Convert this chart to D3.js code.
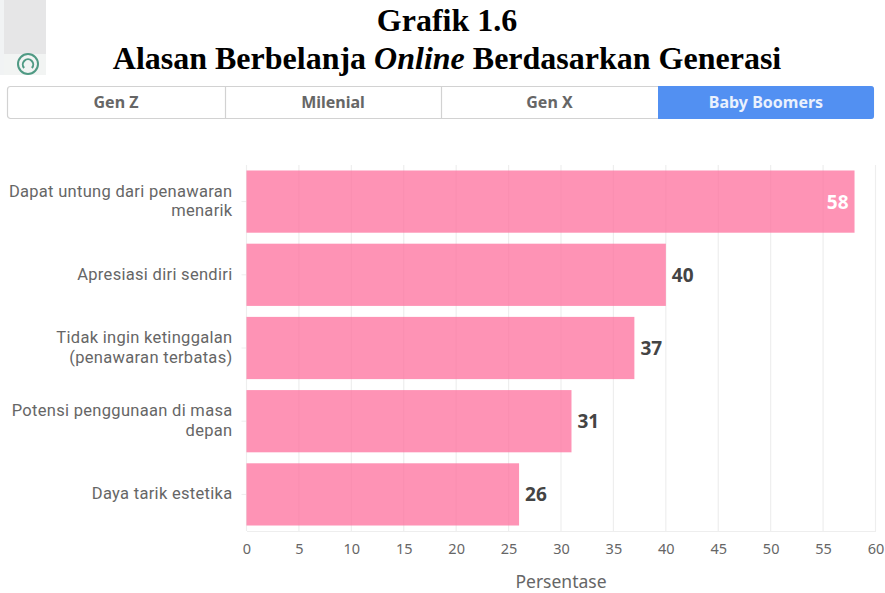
<!DOCTYPE html>
<html>
<head>
<meta charset="utf-8">
<script src="https://cdn.jsdelivr.net/npm/d3@7"></script>
<style>
  html, body { margin: 0; padding: 0; background: #fff; }
  text { font-family: "Noto Sans", sans-serif; }
</style>
</head>
<body>
<div id="chart"></div>
<script>
var categories = [
  "Dapat untung dari penawaran menarik",
  "Apresiasi diri sendiri",
  "Tidak ingin ketinggalan (penawaran terbatas)",
  "Potensi penggunaan di masa depan",
  "Daya tarik estetika"
];
var categoryLines = [
  ["Dapat untung dari penawaran", "menarik"],
  ["Apresiasi diri sendiri"],
  ["Tidak ingin ketinggalan", "(penawaran terbatas)"],
  ["Potensi penggunaan di masa", "depan"],
  ["Daya tarik estetika"]
];
var values = [58, 40, 37, 31, 26];
var xTicks = [0, 5, 10, 15, 20, 25, 30, 35, 40, 45, 50, 55, 60];
var tabs = ["Gen Z", "Milenial", "Gen X", "Baby Boomers"];
var tabEdges = [7, 225, 441, 658, 874];

var width = 885, height = 593;
var margin = { top: 165, right: 9.5, bottom: 62, left: 246.5 };
var innerW = width - margin.left - margin.right;
var innerH = height - margin.top - margin.bottom;

var svgRoot = d3.select("#chart").append("svg")
  .attr("width", width)
  .attr("height", height)
  .style("display", "block");

// scrap of the page left of the title
svgRoot.append("rect").attr("x", 0).attr("y", 0).attr("width", 4).attr("height", 75).attr("fill", "#f1f3f4");
svgRoot.append("rect").attr("x", 4).attr("y", 0).attr("width", 42).attr("height", 54).attr("fill", "#e6e6e7");
svgRoot.append("rect").attr("x", 4).attr("y", 54).attr("width", 42).attr("height", 21).attr("fill", "#f2f4f3");
svgRoot.append("circle").attr("cx", 28).attr("cy", 64).attr("r", 10)
  .attr("fill", "none").attr("stroke", "#4f9a84").attr("stroke-width", 2);
svgRoot.append("path").attr("d", d3.arc()({ innerRadius: 4.2, outerRadius: 6.2, startAngle: -2.3, endAngle: 2.3 }))
  .attr("transform", "translate(28,64.5)").attr("fill", "#4f9a84");

// title
var title = svgRoot.append("g")
  .attr("text-anchor", "middle")
  .style("font-weight", "bold")
  .style("font-size", "32px")
  .style("fill", "#000");
title.append("text").attr("x", 447).attr("y", 31)
  .style("font-family", "'Liberation Serif', serif")
  .text("Grafik 1.6");
var t2 = title.append("text").attr("x", 447).attr("y", 69)
  .style("font-family", "'Liberation Serif', serif");
t2.append("tspan").text("Alasan Berbelanja ");
t2.append("tspan").style("font-style", "italic").text("Online");
t2.append("tspan").text(" Berdasarkan Generasi");

// tab bar
var tabG = svgRoot.append("g");
tabG.append("rect")
  .attr("x", 7.5).attr("y", 86.5).attr("width", 866).attr("height", 32).attr("rx", 3)
  .attr("fill", "#fff").attr("stroke", "#d2d2d2").attr("stroke-width", 1.2);
tabG.append("path")
  .attr("d", "M658,86h213a3,3 0 0 1 3,3v27a3,3 0 0 1 -3,3h-213z")
  .attr("fill", "#5290f2");
tabs.forEach(function (t, i) {
  if (i > 0 && i < 3) {
    tabG.append("line")
      .attr("x1", tabEdges[i] + 0.5).attr("x2", tabEdges[i] + 0.5)
      .attr("y1", 87).attr("y2", 118)
      .attr("stroke", "#d2d2d2").attr("stroke-width", 1.2);
  }
  tabG.append("text")
    .attr("x", (tabEdges[i] + tabEdges[i + 1]) / 2)
    .attr("y", 108)
    .attr("text-anchor", "middle")
    .style("font-size", "16px")
    .style("font-weight", "bold")
    .style("fill", i == 3 ? "#eaf1fd" : "#666")
    .text(t);
});

var svg = svgRoot.append("g")
  .attr("transform", "translate(" + margin.left + "," + margin.top + ")");

var x = d3.scaleLinear().domain([0, 60]).range([0, innerW]);
var y = d3.scaleBand().domain(categories).range([0, innerH]).paddingInner(0.15).paddingOuter(0.075);

// grid
svg.append("g")
  .selectAll("line")
  .data(xTicks)
  .enter()
  .append("line")
  .attr("x1", function (d) { return x(d); })
  .attr("x2", function (d) { return x(d); })
  .attr("y1", 0)
  .attr("y2", innerH)
  .attr("stroke", "#eeeeee")
  .attr("stroke-width", 1.2);

// axes
var xAxis = d3.axisBottom(x).tickValues(xTicks).tickSize(0).tickPadding(13);
var gx = svg.append("g").attr("transform", "translate(0," + innerH + ")").call(xAxis);
gx.select(".domain").attr("stroke", "#eeeeee").attr("stroke-width", 1.2);
gx.selectAll("text").style("font-size", "14.5px").style("fill", "#666");

var yAxis = d3.axisLeft(y).tickSize(5).tickFormat("");
var gy = svg.append("g").call(yAxis);
gy.select(".domain").remove();
gy.selectAll("line").attr("stroke", "#eeeeee");

// wrapped category labels, Roboto keeps the two lines from touching
gy.selectAll(".tick").each(function (d, i) {
  var lines = categoryLines[i];
  var lab = d3.select(this).select("text")
    .attr("x", -14)
    .attr("y", 0)
    .attr("dy", null)
    .attr("text-anchor", "end")
    .style("font-family", "Roboto, sans-serif")
    .style("font-size", "16.5px")
    .style("letter-spacing", "0.3px")
    .style("fill", "#666");
  lines.forEach(function (l, j) {
    lab.append("tspan")
      .attr("x", -14)
      .attr("y", (j - (lines.length - 1) / 2) * 19.5 + 5)
      .text(l);
  });
});

// bars
svg.append("g")
  .selectAll("rect")
  .data(values)
  .enter()
  .append("rect")
  .attr("x", 0)
  .attr("y", function (d, i) { return y(categories[i]); })
  .attr("width", function (d) { return x(d); })
  .attr("height", y.bandwidth())
  .attr("fill", "#fe6f9c")
  .attr("fill-opacity", 0.75);

// value labels
svg.append("g")
  .selectAll("text")
  .data(values)
  .enter()
  .append("text")
  .attr("x", function (d, i) { return i == 0 ? x(d) - 6 : x(d) + 6; })
  .attr("y", function (d, i) { return y(categories[i]) + y.bandwidth() / 2 + 7; })
  .attr("text-anchor", function (d, i) { return i == 0 ? "end" : "start"; })
  .style("font-size", "19px")
  .style("font-weight", "bold")
  .style("fill", function (d, i) { return i == 0 ? "#fff" : "#444"; })
  .text(function (d) { return d; });

// x axis title
svg.append("text")
  .attr("x", x(30))
  .attr("y", innerH + 57)
  .attr("text-anchor", "middle")
  .style("font-size", "17.5px")
  .style("fill", "#666")
  .text("Persentase");
</script>
</body>
</html>
